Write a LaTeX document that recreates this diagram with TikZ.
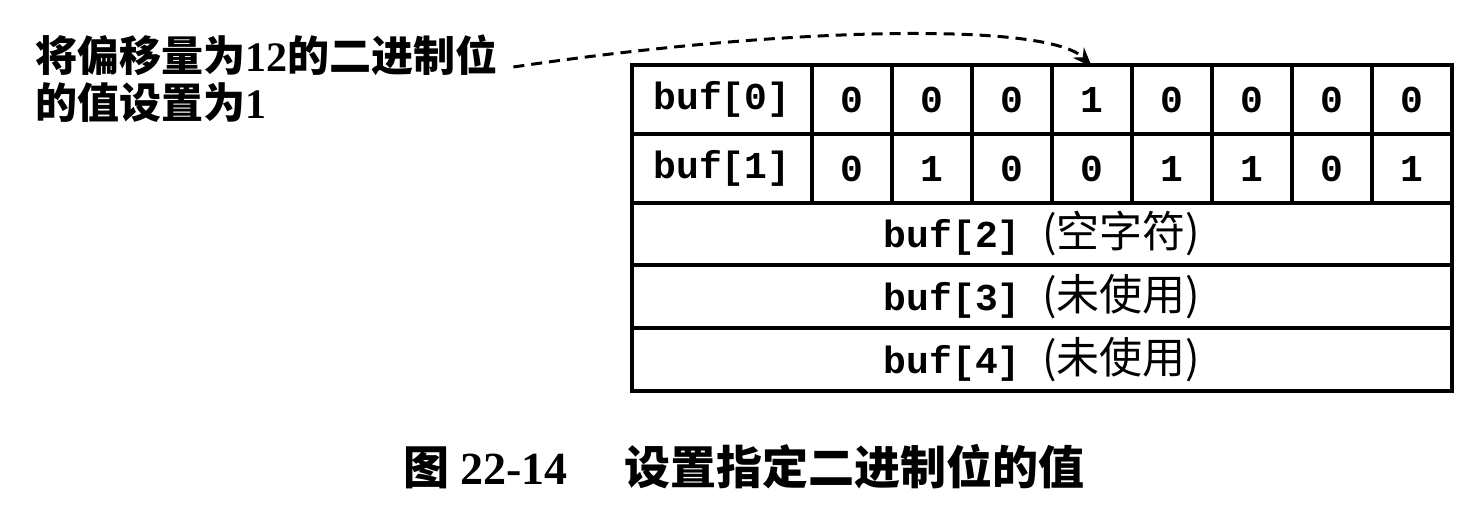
\documentclass[tikz,border=0pt]{standalone}
\usepackage{fontspec}
\setmainfont{Liberation Serif}
\setmonofont{Liberation Mono}
\newfontfamily\cjk{Noto Sans CJK SC}
\usetikzlibrary{arrows.meta,positioning}

\begin{document}
\begin{tikzpicture}[x=1pt,y=-1pt]
%case : une cellule du tableau buf, etiq : texte en gras à gauche
\tikzset{case/.style={draw,line width=3.6pt,inner sep=0pt,font=\fontsize{38}{40}\selectfont\ttfamily\bfseries}} %style des cellules
\tikzset{etiq/.style={inner sep=0pt,font=\fontsize{42}{46}\selectfont\cjk\bfseries}}
\newcommand{\hz}[1]{{\fontsize{43}{46}\selectfont\cjk\mdseries\enspace(#1)}}
\useasboundingbox (0,0) rectangle (1480,514);
% ligne buf[0]
\node[case,minimum width=180,minimum height=69] (b0) at (722,99.5) {buf[0]};
\foreach \v [count=\i from 0] in {0,0,0,1,0,0,0,0}
  \node[case,minimum width=80,minimum height=69] (b0\i) at (852+80*\i,99.5) {\v};
% ligne buf[1]
\node[case,minimum width=180,minimum height=69] (b1) at (722,168.5) {buf[1]};
\foreach \v [count=\i from 0] in {0,1,0,0,1,1,0,1}
  \node[case,minimum width=80,minimum height=69] (b1\i) at (852+80*\i,168.5) {\v};
% lignes entières
\node[case,minimum width=820,minimum height=62] (b2) at (1042,234) {buf[2]\hz{空字符}};
\node[case,minimum width=820,minimum height=63] (b3) at (1042,296.5) {buf[3]\hz{未使用}};
\node[case,minimum width=820,minimum height=63] (b4) at (1042,359.5) {buf[4]\hz{未使用}};
% texte de gauche
\node[etiq,anchor=west] (l1) at (35,55) {将偏移量为{\rmfamily 12}的二进制位};
\node[etiq,anchor=west] (l2) at (35,103) {的值设置为{\rmfamily 1}};
\draw[line width=3pt,dash pattern=on 11pt off 7pt,-{Stealth[length=20pt,width=15pt]}]
  ([xshift=16pt,yshift=-12pt]l1.east) .. controls (790,26) and (1050,22) .. ([yshift=-4pt]b03.north);
% légende
\node[etiq,font=\fontsize{46}{50}\selectfont\cjk\bfseries] (titre) at (744,467) {图 {\rmfamily 22-14}\quad\ 设置指定二进制位的值};
\end{tikzpicture}
\end{document}
